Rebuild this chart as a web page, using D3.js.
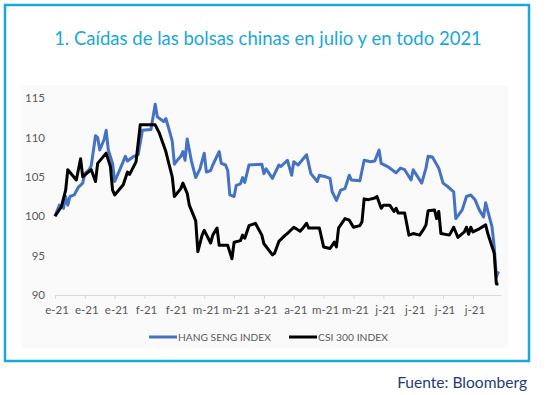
<!DOCTYPE html>
<html>
<head>
<meta charset="utf-8">
<script src="https://cdn.jsdelivr.net/npm/d3@7"></script>
<style>
  body { margin: 0; background: #fff; }
  svg { display: block; }
  text { font-family: Lato, "Open Sans", sans-serif; }
</style>
</head>
<body>
<svg id="chart"></svg>
<script>
// values (index, 1 Jan 2021 = 100)
const hsDates = ["2021-01-01","2021-01-03","2021-01-05","2021-01-06","2021-01-07","2021-01-08","2021-01-10","2021-01-12","2021-01-14","2021-01-15",
  "2021-01-17","2021-01-18","2021-01-20","2021-01-21","2021-01-22","2021-01-24","2021-01-25","2021-01-26","2021-01-28","2021-01-29",
  "2021-02-01","2021-02-03","2021-02-04","2021-02-07","2021-02-09","2021-02-11","2021-02-15","2021-02-17","2021-02-18","2021-02-20",
  "2021-02-21","2021-02-22","2021-02-24","2021-02-25","2021-02-26","2021-02-28","2021-03-01","2021-03-02","2021-03-03","2021-03-04",
  "2021-03-06","2021-03-08","2021-03-10","2021-03-12","2021-03-13","2021-03-15","2021-03-16","2021-03-19","2021-03-20","2021-03-22",
  "2021-03-23","2021-03-24","2021-03-26","2021-03-27","2021-03-29","2021-03-30","2021-03-31","2021-04-02","2021-04-08","2021-04-09",
  "2021-04-10","2021-04-13","2021-04-16","2021-04-17","2021-04-20","2021-04-22","2021-04-23","2021-04-25","2021-04-29","2021-05-01",
  "2021-05-04","2021-05-05","2021-05-08","2021-05-10","2021-05-11","2021-05-13","2021-05-15","2021-05-17","2021-05-19","2021-05-20",
  "2021-05-24","2021-05-26","2021-05-29","2021-05-31","2021-06-02","2021-06-03","2021-06-06","2021-06-09","2021-06-10","2021-06-12",
  "2021-06-14","2021-06-17","2021-06-18","2021-06-22","2021-06-24","2021-06-25","2021-06-27","2021-06-30","2021-07-02","2021-07-04",
  "2021-07-07","2021-07-08","2021-07-11","2021-07-13","2021-07-15","2021-07-17","2021-07-19","2021-07-21","2021-07-22","2021-07-25",
  "2021-07-26","2021-07-27","2021-07-28"];
const hsValues = [100.0,101.4,101.0,102.5,101.4,102.5,102.7,103.7,104.2,105.4,
  105.9,106.4,110.2,110.0,108.4,109.7,110.9,108.4,106.7,104.4,
  106.3,107.6,107.0,107.6,107.8,110.9,111.0,114.2,112.6,112.2,
  112.0,112.4,110.5,109.5,106.6,107.3,107.6,108.2,107.1,109.8,
  107.0,104.9,106.0,108.0,105.6,105.8,106.5,108.2,106.7,106.5,
  105.8,102.7,102.5,103.9,104.1,104.9,104.3,106.5,106.6,105.4,
  106.0,104.8,106.5,106.3,107.1,105.2,106.9,106.5,107.8,105.4,
  104.4,105.2,105.0,104.8,103.1,102.0,103.3,103.5,105.2,104.6,
  104.5,107.1,106.9,107.0,108.4,106.7,106.3,105.7,105.5,106.1,
  105.9,104.6,105.9,104.2,106.1,107.6,107.5,106.1,104.2,103.8,
  103.1,99.7,100.8,102.5,102.7,102.1,100.8,99.9,101.7,98.6,
  96.1,92.3,93.0];

const csiDates = ["2021-01-01","2021-01-04","2021-01-06","2021-01-07","2021-01-11","2021-01-13","2021-01-14","2021-01-18","2021-01-20","2021-01-21",
  "2021-01-25","2021-01-27","2021-01-28","2021-01-29","2021-02-02","2021-02-04","2021-02-05","2021-02-08","2021-02-10","2021-02-17",
  "2021-02-19","2021-02-22","2021-02-23","2021-02-25","2021-02-26","2021-03-01","2021-03-02","2021-03-04","2021-03-05","2021-03-08",
  "2021-03-09","2021-03-11","2021-03-12","2021-03-15","2021-03-16","2021-03-18","2021-03-19","2021-03-23","2021-03-25","2021-03-26",
  "2021-03-29","2021-03-30","2021-03-31","2021-04-02","2021-04-05","2021-04-06","2021-04-08","2021-04-09","2021-04-13","2021-04-14",
  "2021-04-16","2021-04-19","2021-04-20","2021-04-23","2021-04-26","2021-04-27","2021-04-29","2021-04-30","2021-05-05","2021-05-07",
  "2021-05-10","2021-05-12","2021-05-13","2021-05-14","2021-05-17","2021-05-19","2021-05-21","2021-05-24","2021-05-25","2021-05-26",
  "2021-05-28","2021-05-31","2021-06-01","2021-06-03","2021-06-04","2021-06-07","2021-06-09","2021-06-10","2021-06-11","2021-06-14",
  "2021-06-16","2021-06-18","2021-06-21","2021-06-23","2021-06-24","2021-06-25","2021-06-28","2021-06-29","2021-06-30","2021-07-01",
  "2021-07-05","2021-07-07","2021-07-09","2021-07-12","2021-07-13","2021-07-14","2021-07-15","2021-07-16","2021-07-19","2021-07-22",
  "2021-07-23","2021-07-26","2021-07-27","2021-07-28"];
const csiValues = [100.0,101.2,103.3,105.9,104.6,107.3,105.0,105.9,104.4,106.7,
  108.0,106.3,103.3,102.7,104.0,105.6,105.3,106.9,111.6,111.6,
  110.5,108.2,107.1,105.0,102.5,103.5,104.2,102.9,101.4,99.4,
  95.5,97.6,98.2,96.6,97.6,98.5,96.3,96.3,94.6,96.7,
  96.9,97.6,97.2,98.8,99.1,98.6,97.6,96.5,95.1,95.3,
  96.8,97.6,97.8,98.6,98.1,98.4,99.1,98.5,98.5,96.1,
  95.9,96.7,96.1,98.5,99.7,99.5,98.6,98.8,99.3,102.2,
  102.1,102.3,102.5,101.0,101.4,101.4,100.6,101.0,100.4,100.4,
  97.6,97.8,97.6,98.4,98.9,100.7,100.8,99.7,100.6,97.8,
  97.6,98.6,97.3,98.0,98.6,97.7,98.6,98.0,98.4,98.9,
  97.8,95.3,91.4,91.4];

const tickDates = ["2021-01-01","2021-01-15","2021-01-29","2021-02-12","2021-02-26","2021-03-12","2021-03-26","2021-04-09",
  "2021-04-23","2021-05-07","2021-05-21","2021-06-04","2021-06-18","2021-07-02","2021-07-16"];
const tickLabels = ["e-21","e-21","e-21","f-21","f-21","m-21","m-21","a-21","a-21","m-21","m-21","j-21","j-21","j-21","j-21"];
const yTicks = [90, 95, 100, 105, 110, 115];
const seriesNames = ["HANG SENG INDEX", "CSI 300 INDEX"];

const W = 548, H = 395;
const cyan = "#1aa7dc";
const parse = d3.utcParse("%Y-%m-%d");

let svg = d3.select("#chart").attr("width", W).attr("height", H);

// frame
svg.append("rect")
  .attr("x", 5).attr("y", 5).attr("width", 524).attr("height", 356)
  .attr("fill", "none").attr("stroke", cyan).attr("stroke-width", 2.5);

// chart area
svg.append("rect")
  .attr("x", 21).attr("y", 85).attr("width", 487).attr("height", 263)
  .attr("fill", "#fafafa");

// title, sized to the width it has in the reference
let title = svg.append("text")
  .attr("x", 268).attr("y", 45)
  .attr("text-anchor", "middle")
  .attr("fill", cyan)
  .attr("font-size", 18)
  .text("1. Caídas de las bolsas chinas en julio y en todo 2021");
let tw = title.node().getComputedTextLength();
title.attr("font-size", 18 * 428 / tw);

let x = d3.scaleUtc()
  .domain([parse("2021-01-01"), parse("2021-07-29")])
  .range([55, 500.6]);
let y = d3.scaleLinear()
  .domain([90, 115])
  .range([295, 98]);

// x axis
let xAxis = svg.append("g")
  .attr("transform", "translate(0,295)")
  .call(d3.axisBottom(x)
    .tickValues(tickDates.map(parse))
    .tickFormat((d, i) => tickLabels[i])
    .tickSize(4)
    .tickSizeOuter(0)
    .tickPadding(7));
xAxis.select(".domain").attr("stroke", "#d9d9d9");
xAxis.selectAll(".tick line").attr("stroke", "#d9d9d9");
xAxis.selectAll(".tick text")
  .attr("fill", "#595959")
  .attr("font-size", 11.5)
  .attr("font-family", "Lato, 'Open Sans', sans-serif")
  .attr("dx", 1.5);

// y axis, labels only
let yAxis = svg.append("g")
  .attr("transform", "translate(55,0)")
  .call(d3.axisLeft(y).tickValues(yTicks).tickSize(0).tickPadding(10));
yAxis.select(".domain").remove();
yAxis.selectAll(".tick text")
  .attr("fill", "#595959")
  .attr("font-size", 11.5)
  .attr("font-family", "Lato, 'Open Sans', sans-serif");

let line = d3.line()
  .x(d => x(d.date))
  .y(d => y(d.value));

let hs = hsDates.map((d, i) => ({ date: parse(d), value: hsValues[i] }));
let csi = csiDates.map((d, i) => ({ date: parse(d), value: csiValues[i] }));

svg.append("path")
  .datum(hs)
  .attr("fill", "none")
  .attr("stroke", "#4472c4")
  .attr("stroke-width", 3)
  .attr("stroke-linejoin", "round")
  .attr("d", line);

svg.append("path")
  .datum(csi)
  .attr("fill", "none")
  .attr("stroke", "#000")
  .attr("stroke-width", 3)
  .attr("stroke-linejoin", "round")
  .attr("d", line);

// legend
let legend = [
  { name: seriesNames[0], color: "#4472c4", x: 149, w: 93 },
  { name: seriesNames[1], color: "#000", x: 289, w: 70 }
];
for (let item of legend) {
  svg.append("line")
    .attr("x1", item.x).attr("x2", item.x + 28)
    .attr("y1", 337).attr("y2", 337)
    .attr("stroke", item.color).attr("stroke-width", 3);
  let t = svg.append("text")
    .attr("x", item.x + 29).attr("y", 341)
    .attr("fill", "#595959")
    .attr("font-size", 11)
    .text(item.name);
  let lw = t.node().getComputedTextLength();
  t.attr("font-size", 11 * item.w / lw);
}

// source
let src = svg.append("text")
  .attr("x", 527).attr("y", 388)
  .attr("text-anchor", "end")
  .attr("fill", "#1f3c78")
  .attr("font-size", 14)
  .text("Fuente: Bloomberg");
let sw = src.node().getComputedTextLength();
src.attr("font-size", 14 * 130 / sw);
</script>
</body>
</html>
